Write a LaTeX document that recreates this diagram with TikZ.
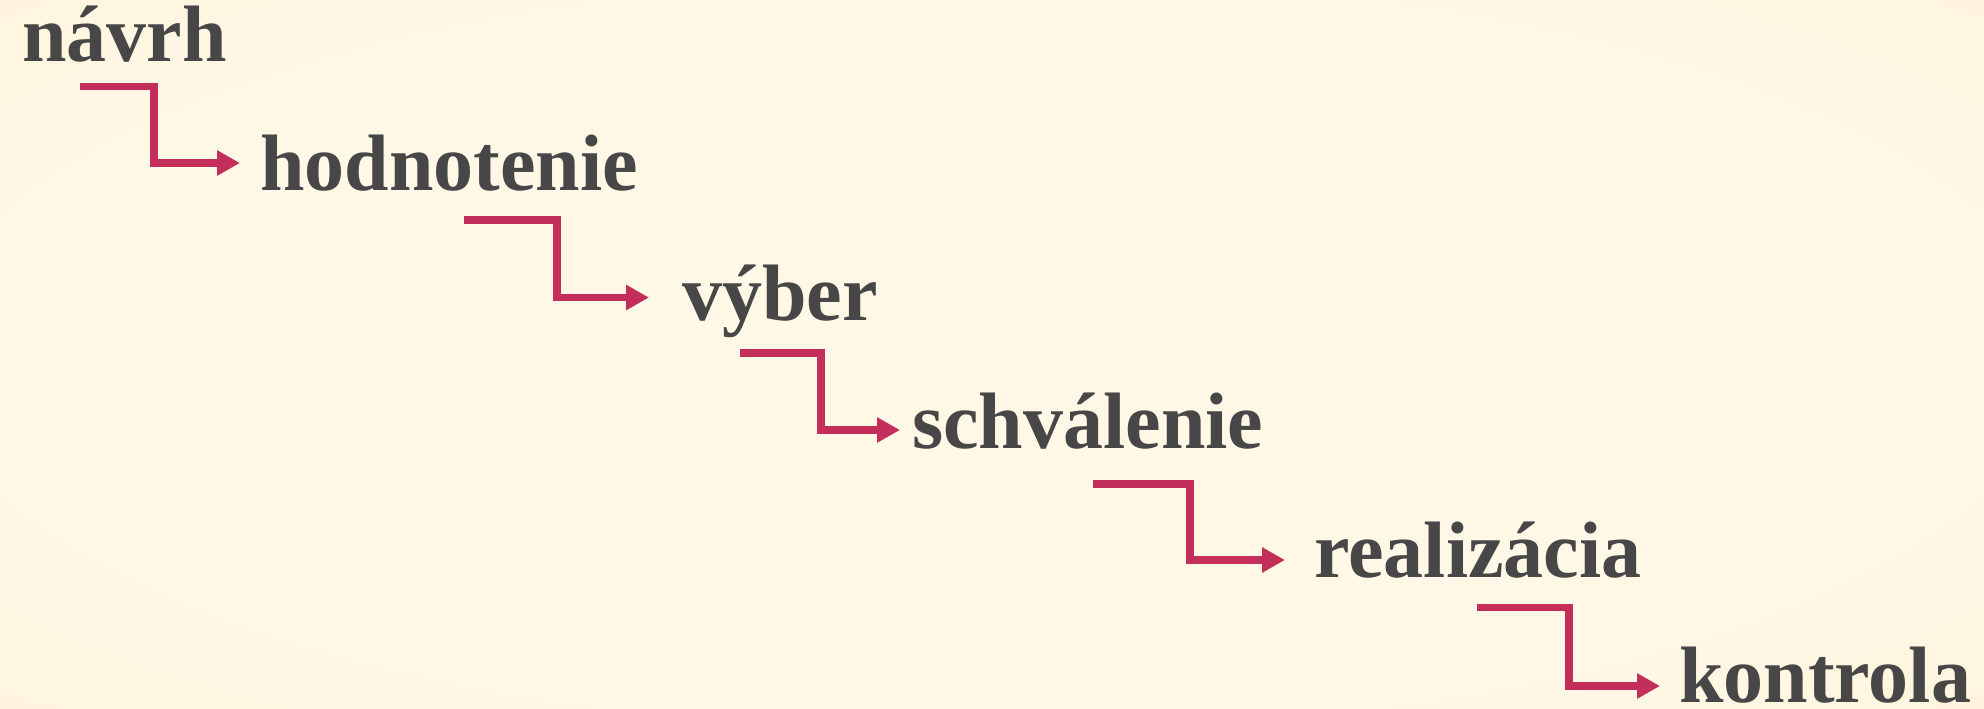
\documentclass[tikz,border=0pt]{standalone}
\usepackage{fontspec}
\setmainfont{Liberation Serif}
\usetikzlibrary{arrows.meta}
\definecolor{bgin}{HTML}{FFF8E7}
\definecolor{bgmid}{HTML}{FFF4DB}
\definecolor{bgedge}{HTML}{FEF0CD}
\definecolor{bgout}{HTML}{FDEBC0}
\definecolor{txt}{HTML}{474747}
\definecolor{conncol}{HTML}{C32E5A}
\pgfdeclareradialshading{bgshade}{\pgfpoint{0bp}{0bp}}{color(0bp)=(bgin); color(25bp)=(bgin); color(40bp)=(bgmid); color(50bp)=(bgedge); color(71bp)=(bgout)}
\tikzset{
  word/.style={anchor=base west, inner sep=0pt, text=txt, font=\fontsize{80}{82}\selectfont\bfseries},
  conn/.style={draw=conncol, line width=7.6pt, line join=miter, -{Triangle[length=23pt,width=24pt]}}
}
\begin{document}
\begin{tikzpicture}[x=1pt,y=-1pt]
\useasboundingbox (0,0) rectangle (1984,709);
\shade[shading=bgshade] (0,0) rectangle (1984,709);
\node[word] (n1) at (22,62) {návrh};
\node[word] (n2) at (260,190) {hodnotenie};
\node[word] (n3) at (682,320) {výber};
\node[word] (n4) at (912,448) {schválenie};
\node[word] (n5) at (1314,577) {realizácia};
\node[word] (n6) at (1679,702) {kontrola};
\draw[conn] ([xshift=58pt,yshift=-24.5pt]n1.base west) -- ++(74,0) |- ([xshift=-20pt,yshift=27pt]n2.base west);
\draw[conn] ([xshift=204pt,yshift=-30pt]n2.base west) -- ++(93,0) |- ([xshift=-33pt,yshift=22.5pt]n3.base west);
\draw[conn] ([xshift=58pt,yshift=-33pt]n3.base west) -- ++(81,0) |- ([xshift=-12pt,yshift=18pt]n4.base west);
\draw[conn] ([xshift=181pt,yshift=-36pt]n4.base west) -- ++(97,0) |- ([xshift=-29pt,yshift=17pt]n5.base west);
\draw[conn] ([xshift=163pt,yshift=-30.5pt]n5.base west) -- ++(92,0) |- ([xshift=-19pt,yshift=16pt]n6.base west);
\end{tikzpicture}
\end{document}
